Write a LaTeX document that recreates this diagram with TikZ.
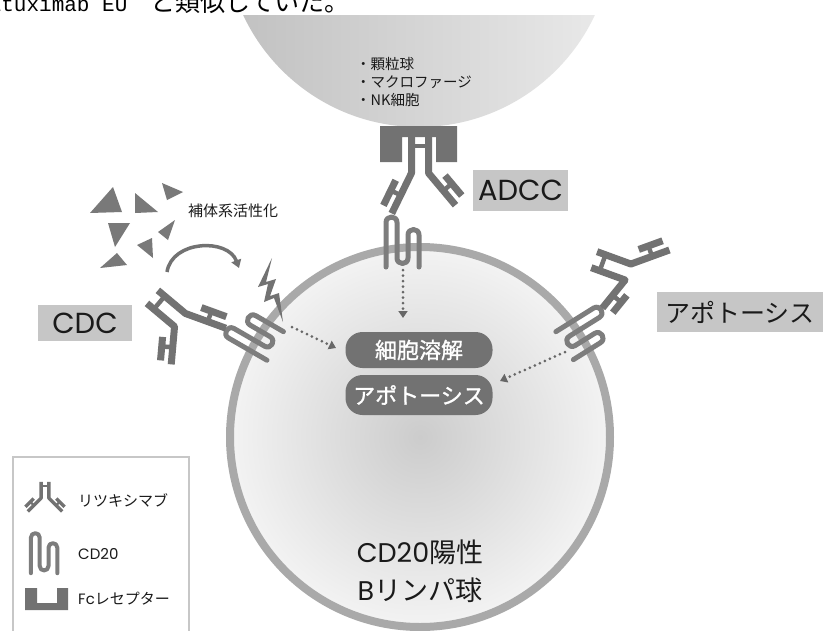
\documentclass[tikz,border=0pt]{standalone}
\usepackage{fontspec}
\setmainfont{Noto Sans CJK JP}
\newfontfamily\jp{Noto Sans CJK JP}
\newfontfamily\jpb{Noto Sans CJK JP}[FakeBold=1.2]
\newfontfamily\geo{Poppins}
\newfontfamily\monolat{Liberation Mono}
\usetikzlibrary{arrows.meta,calc}

\definecolor{dk}{HTML}{727272}
\definecolor{memb}{HTML}{A9A9A9}
\definecolor{lbl}{HTML}{C6C6C6}
\definecolor{ink}{HTML}{1A1A1A}
\newcommand\fsz[1]{\fontsize{#1}{#1}\selectfont}

\tikzset{
  abbar/.style={draw=dk, line width=7pt, line cap=butt, line join=round},
  abrung/.style={draw=dk, line width=4.5pt, line cap=butt},
  cdline/.style={draw=dk!92!white, line width=5pt, line cap=round, line join=round},
  dotarrow/.style={draw=dk!90!black, line width=3pt, line cap=round, dash pattern=on 0pt off 5.5pt,
    -{Triangle[length=7pt,width=9pt]}},
  curvearrow/.style={draw=dk, line width=3.5pt, -{Triangle[length=8pt,width=10pt]}},
  pill/.style={fill=dk, rounded corners=17pt, minimum width=147pt, text=white, inner sep=0pt,
    font=\jpb\fsz{22}},
  tag/.style={fill=lbl, text=ink, inner sep=0pt},
  tri/.style={fill=dk!95!white},
  legendtext/.style={anchor=west, inner sep=0pt, text=ink, font=\jp\fsz{15}},
}

% antibody: #1 hinge point, #2 Fc direction,
% #3 #4 #5 first arm (direction, length, side of light chain),
% #6 #7 #8 second arm
\newcommand\antibody[8]{%
  \begin{scope}[shift={#1}]
    \coordinate (abA) at ({#2+90}:8.5);
    \coordinate (abB) at ({#2-90}:8.5);
    \draw[abbar] ($(abA)+(#2:36)$) -- (abA) -- ++(#3:#4);
    \draw[abbar] ($(abB)+(#2:36)$) -- (abB) -- ++(#6:#7);
    \draw[abrung] ($(abA)+(#2:27)$) -- ($(abB)+(#2:27)$);
    \draw[abbar] ($(abA)+(#3:{0.3*#4})+({#3+#5}:11)$) -- ++(#3:{0.62*#4});
    \draw[abrung] ($(abA)+(#3:{0.55*#4})$) -- ++({#3+#5}:11);
    \draw[abbar] ($(abB)+(#6:{0.3*#7})+({#6+#8}:11)$) -- ++(#6:{0.62*#7});
    \draw[abrung] ($(abB)+(#6:{0.55*#7})$) -- ++({#6+#8}:11);
  \end{scope}}

% CD20 crossing the membrane: #1 point on the membrane, #2 rotation, #3 scale
\newcommand\cdtwenty[3]{%
  \begin{scope}[shift={#1}, rotate=#2, scale=#3]
    \draw[cdline] (-17,19) -- (-17,-25.5)
      .. controls (-17,-32.8) and (-6,-32.8) .. (-6,-25.5)
      -- (-6,10)
      .. controls (-6,17.3) and (5,17.3) .. (5,10)
      -- (5,-13)
      .. controls (5,-20.3) and (16,-20.3) .. (16,-13)
      -- (16,19);
  \end{scope}}

\begin{document}
\begin{tikzpicture}[x=1pt,y=-1pt]
\useasboundingbox (0,0) rectangle (823,630);
\fill[white] (0,0) rectangle (823,630);

% line of running text above the figure
\node[anchor=base west, inner sep=0pt, font=\monolat\fsz{21}] (runlat) at (-24,11.5) {rituximab EU};
\node[anchor=base west, inner sep=0pt, font=\jp\fsz{25}] (runjp) at (150,11.5) {と類似していた。};

% target B cell
\shade[inner color={rgb,255:red,204;green,204;blue,204}, outer color={rgb,255:red,243;green,243;blue,243}]
  (420,437) circle[radius=190];
\draw[memb, line width=8pt] (420,437) circle[radius=190];

% effector cell
\begin{scope}
  \clip (0,15) rectangle (823,630);
  \shade[left color={rgb,255:red,192;green,192;blue,192}, right color={rgb,255:red,234;green,234;blue,234}]
    (419,-67) circle[radius=194];
\end{scope}
\node[anchor=west, inner sep=0pt, text=ink, font=\jp\fsz{14.5}] (eff1) at (356,64) {・顆粒球};
\node[anchor=west, inner sep=0pt, text=ink, font=\jp\fsz{14.5}] (eff2) at (356,82) {・マクロファージ};
\node[anchor=west, inner sep=0pt, text=ink, font=\jp\fsz{14.5}] (eff3) at (356,100) {・NK細胞};

% CD20 molecules
\cdtwenty{(403,248)}{0}{1}
\cdtwenty{(259,336)}{60}{1}
\cdtwenty{(581,336)}{-58}{1}

% rituximab molecules
\antibody{(420,173)}{-90}{50}{42}{-90}{116}{45}{90}
\antibody{(180,320)}{220}{20}{43}{-90}{95}{38}{90}
\antibody{(628,272)}{200}{-20}{41}{-90}{129}{36}{-90}

% Fc receptor
\fill[dk] (380,126) -- (457,126) -- (457,162) -- (436,162) -- (436,137)
  -- (402,137) -- (402,162) -- (380,162) -- cycle;

% complement fragments
\fill[tri] (113,187) -- (90,213) -- (122,212) -- cycle;
\fill[tri] (135,193) -- (135,213) -- (158,212) -- cycle;
\fill[tri] (162,183) -- (183,192) -- (167,200) -- cycle;
\fill[tri] (108,223) -- (130,223) -- (115,247) -- cycle;
\fill[tri] (175,220) -- (158,232) -- (168,240) -- cycle;
\fill[tri] (137,245) -- (152,238) -- (153,258) -- cycle;
\fill[tri] (100,268) -- (117,253) -- (127,265) -- cycle;

% lightning at the membrane
\fill[dk] (272,258) -- (258,287) -- (268,284) -- (264,302) -- (274,298) -- (283,322)
  -- (279,293) -- (270,296) -- (276,279) -- (266,282) -- cycle;

\node[inner sep=0pt, text=ink, font=\jp\fsz{15}] (cact) at (233,211) {補体系活性化};
\coordinate (cS) at (167,272);
\coordinate (cE) at (239,268);
\draw[curvearrow] (cS) .. controls (172,240) and (228,238) .. (cE);

% outcomes
\node[pill, minimum height=36pt] (lysis) at (419,350) {細胞溶解};
\node[pill, minimum height=40pt] (apo) at (419,395) {アポトーシス};

\coordinate (adS) at (403,270);
\coordinate (adE) at (403,318);
\draw[dotarrow] (adS) -- (adE);
\coordinate (cdS) at (292,327);
\coordinate (cdE) at (336,348);
\draw[dotarrow] (cdS) -- (cdE);
\coordinate (apS) at (565,352);
\coordinate (apE) at (500,381);
\draw[dotarrow] (apS) -- (apE);

% mechanism tags
\node[tag, minimum width=95pt, minimum height=41pt, font=\geo\fsz{29}] (adcc) at (520.5,190.5) {ADCC};
\node[tag, minimum width=94pt, minimum height=36pt, font=\geo\fsz{29}] (cdc) at (85,323) {CDC};
\node[tag, minimum width=166pt, minimum height=40pt, font=\jp\fsz{25}] (apotag) at (740,312) {アポトーシス};

% cell label
\node[inner sep=0pt, text=ink, font=\jp\fsz{27}] (bc1) at (420,552) {{\geo CD20}陽性};
\node[inner sep=0pt, text=ink, font=\jp\fsz{27}] (bc2) at (420,590) {{\geo B}リンパ球};

% legend
\draw[draw=black!22, line width=1.2pt, fill=white] (13,457) rectangle (189,650);
\begin{scope}[shift={(45,498)}, scale=0.45]
  \tikzset{abbar/.style={draw=dk, line width=3.4pt, line cap=butt, line join=round},
           abrung/.style={draw=dk, line width=2.2pt, line cap=butt}}
  \antibody{(0,0)}{-90}{45}{42}{-90}{135}{42}{90}
\end{scope}
\node[legendtext] (lg1) at (78,500) {リツキシマブ};
\begin{scope}
  \tikzset{cdline/.style={draw=dk!92!white, line width=4pt, line cap=round, line join=round}}
  \cdtwenty{(44.5,558)}{0}{0.8}
\end{scope}
\node[legendtext] (lg2) at (78,554) {{\geo CD20}};
\fill[dk] (25,588) -- (37,588) -- (37,603) -- (57,603) -- (57,588) -- (68,588)
  -- (68,610) -- (25,610) -- cycle;
\node[legendtext] (lg3) at (78,599) {{\geo Fc}レセプター};
\end{tikzpicture}
\end{document}
